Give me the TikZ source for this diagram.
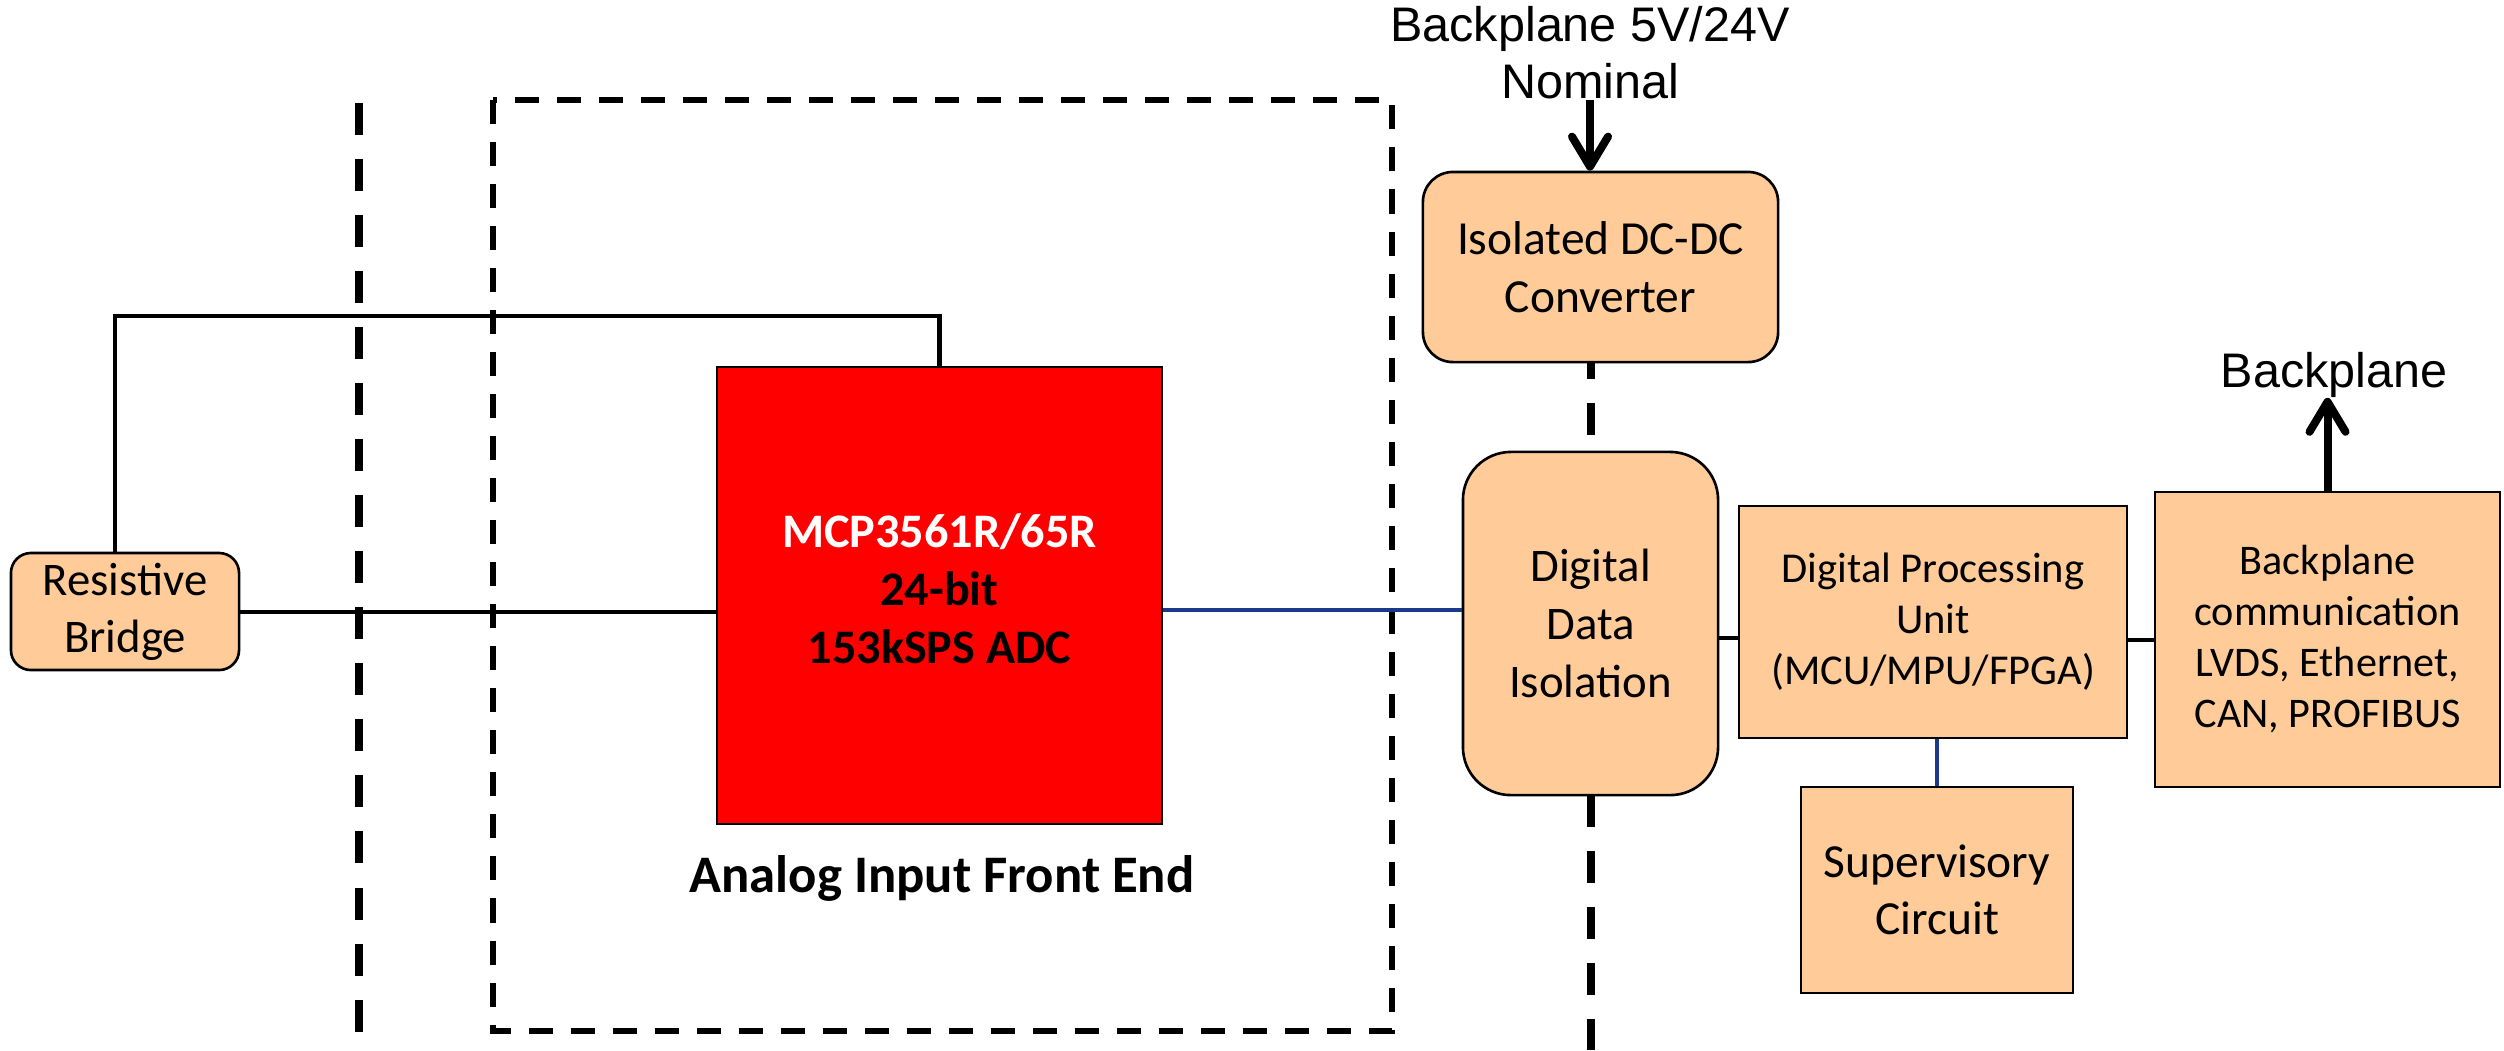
\documentclass[tikz,border=0pt]{standalone}
\usepackage{fontspec}
\setmainfont{Carlito}
\newfontfamily\arialfont{Liberation Sans}
\usetikzlibrary{arrows.meta}
\definecolor{peach}{RGB}{255,204,153}
\definecolor{wireblue}{RGB}{28,58,140}
\definecolor{adcred}{RGB}{255,0,0}
\newcommand\fs[2]{\fontsize{#1}{#2}\selectfont}

\begin{document}
\begin{tikzpicture}[x=0.01cm,y=-0.01cm,
  box/.style={draw=black, fill=peach, line width=0.75pt, align=center, inner sep=0pt},
  rbox/.style={box, rounded corners=#1},
  wire/.style={line width=1.15pt, black},
  bwire/.style={line width=1.2pt, wireblue},
  barrier/.style={line width=0.08cm, dash pattern=on 0.32cm off 0.24cm},
  frontend/.style={line width=0.06cm, dash pattern=on 0.24cm off 0.18cm},
  bigarrow/.style={line width=0.08cm, -{Straight Barb[length=0.3cm,width=0.36cm,round]}},
  lbl/.style={font=\arialfont\fs{13.8}{16.2}, align=center, inner sep=0pt}
]
\useasboundingbox (0,0) rectangle (2504,1050);

% isolation / boundary lines
\draw[barrier] (359,103) -- (359,1050);
\draw[barrier, dash phase=0.15cm] (1591,362) -- (1591,1050);
\draw[frontend] (493,100) rectangle (1392,1031);

% blocks
\node[rbox=0.2cm, minimum width=2.28cm, minimum height=1.17cm, font=\fs{13.3}{16.2}] (rb) at (125,611.5) {Resistive\\Bridge};
\node[draw=black, fill=adcred, line width=0.6pt, minimum width=4.45cm, minimum height=4.57cm, inner sep=0pt,
  label={[name=adctext, align=center, inner sep=0pt, yshift=0.07cm, font=\bfseries\fs{13.7}{16.5}]center:{\textcolor{white}{MCP3561R/65R}\\24-bit\\153kSPS ADC}}] (adc) at (939.5,595.5) {};
\node[font=\bfseries\fs{15}{18}, anchor=base, inner sep=0pt] (aife) at (942,892) {Analog Input Front End};
\node[rbox=0.48cm, minimum width=2.55cm, minimum height=3.43cm, font=\fs{13.3}{16.5}] (ddi) at (1590.5,623.5) {Digital\\Data\\Isolation};
\node[rbox=0.3cm, minimum width=3.55cm, minimum height=1.9cm, font=\fs{13.5}{16.5}] (dcdc) at (1600.5,267) {Isolated DC-DC\\Converter};
\node[box, minimum width=3.88cm, minimum height=2.32cm, font=\fs{12.1}{14.5}] (dpu) at (1933,622) {Digital Processing\\Unit\\(MCU/MPU/FPGA)};
\node[box, minimum width=2.72cm, minimum height=2.06cm, font=\fs{13.5}{16.2}] (sc) at (1937,890) {Supervisory\\Circuit};
\node[box, minimum width=3.45cm, minimum height=2.95cm, font=\fs{12}{14.5}] (bc) at (2327.5,639.5) {Backplane\\communication\\LVDS, Ethernet,\\CAN, PROFIBUS};
\node[lbl, anchor=south] (pwr) at (1590,100) {Backplane 5V/24V\\Nominal};
\node[lbl, anchor=base] (bpl) at (2334,387) {Backplane};

% connectors
\coordinate (topw) at (500,316);
\draw[wire] ([xshift=-0.1cm]rb.north) |- (topw) -| (adc.north);
\draw[wire] (rb.east) -- (rb.east -| adc.west);
\coordinate (adcout) at (1300,610);
\draw[bwire] (adcout -| adc.east) -- (adcout -| ddi.west);
\coordinate (isoout) at (1730,638);
\draw[wire] (isoout -| ddi.east) -- (isoout -| dpu.west);
\draw[wire] (bc.west -| dpu.east) -- (bc.west);
\draw[bwire] (dpu.south -| sc.north) -- (sc.north);
\draw[bigarrow] (pwr.south) -- (pwr.south |- dcdc.north);
\draw[bigarrow] (bc.north) -- (bc.north |- bpl.south);
\end{tikzpicture}
\end{document}
